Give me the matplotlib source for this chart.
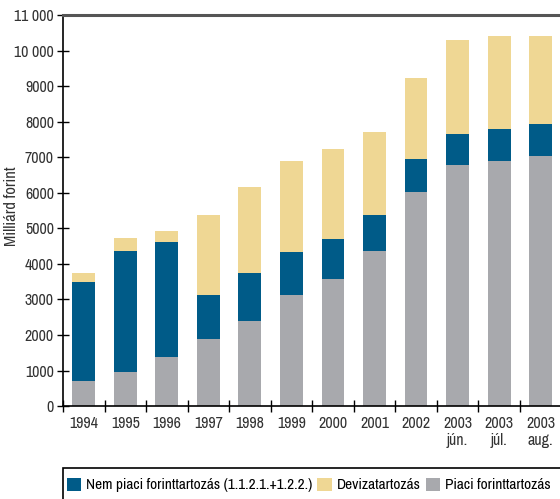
import numpy as np
import matplotlib.pyplot as plt
from matplotlib import font_manager
from matplotlib.patches import Rectangle

# narrow font if one is installed, otherwise a smaller Liberation Sans
fonts = font_manager.fontManager.ttflist
narrow = sorted({f.name for f in fonts if 'Narrow' in f.name or 'Condensed' in f.name})
if narrow:
    plt.rcParams['font.family'] = [narrow[0], 'DejaVu Sans']
    fs, fs_leg = 11.5, 11
else:
    plt.rcParams['font.family'] = ['Liberation Sans', 'DejaVu Sans']
    fs, fs_leg = 9.5, 9

labels = ['1994', '1995', '1996', '1997', '1998', '1999', '2000', '2001', '2002',
          '2003\njún.', '2003\njúl.', '2003\naug.']
piaci = [700, 960, 1380, 1880, 2390, 3120, 3570, 4360, 6020, 6780, 6890, 7030]
nem_piaci = [2790, 3400, 3230, 1240, 1350, 1210, 1130, 1010, 930, 870, 900, 900]
deviza = [250, 370, 310, 2250, 2420, 2560, 2530, 2340, 2280, 2650, 2620, 2480]

c_blue = '#005b88'
c_yellow = '#efd794'
c_gray = '#a8a9ad'

fig = plt.figure(figsize=(5.6, 4.99), dpi=100)
ax = fig.add_axes([0.1125, 0.186, 0.89, 0.784])

x = np.arange(len(labels))
w = 0.55
piaci = np.array(piaci)
nem_piaci = np.array(nem_piaci)
deviza = np.array(deviza)
ax.bar(x, piaci, w, color=c_gray, label='Piaci forinttartozás')
ax.bar(x, nem_piaci, w, bottom=piaci, color=c_blue,
       label='Nem piaci forinttartozás (1.1.2.1.+1.2.2.)')
ax.bar(x, deviza, w, bottom=piaci + nem_piaci, color=c_yellow, label='Devizatartozás')

ax.set_xlim(-0.5, 11.5)
ax.set_ylim(0, 11000)
yt = np.arange(0, 11001, 1000)
ax.set_yticks(yt)
ax.set_yticklabels([f'{v:,}'.replace(',', ' ') if v >= 10000 else str(v) for v in yt])
ax.set_xticks(x)
ax.set_xticklabels(labels)
ax.set_xticks(np.arange(-0.5, 11.6, 1), minor=True)
ax.tick_params(axis='x', which='major', length=0, labelsize=fs, pad=7, colors='#333333')
ax.tick_params(axis='x', which='minor', direction='inout', length=8, width=1)
ax.tick_params(axis='y', direction='inout', length=9, width=1, labelsize=fs,
               colors='#333333', pad=2)
ax.tick_params(axis='both', color='black')

ax.spines['right'].set_visible(False)
ax.spines['top'].set_color('#555555')
ax.spines['top'].set_linewidth(2.2)
ax.spines['left'].set_linewidth(1.2)
ax.spines['bottom'].set_linewidth(1.2)
ax.set_ylabel('Milliárd forint', fontsize=fs + 0.5, color='#333333')
ax.yaxis.set_label_coords(-0.088, 0.51)

# legend box at the bottom
fig.patches.append(Rectangle((0.1125, -0.02), 0.95, 0.082, transform=fig.transFigure,
                             fill=False, edgecolor='black', linewidth=1.2))
h, l = ax.get_legend_handles_labels()
order = [1, 2, 0]
fig.legend([h[i] for i in order], [l[i] for i in order], ncol=3, frameon=False,
           loc='center left', bbox_to_anchor=(0.119, 0.028), fontsize=fs_leg,
           handlelength=0.95, handleheight=0.95, handletextpad=0.3, columnspacing=0.35,
           borderaxespad=0, borderpad=0)

fig.savefig('out.png', dpi=100)
